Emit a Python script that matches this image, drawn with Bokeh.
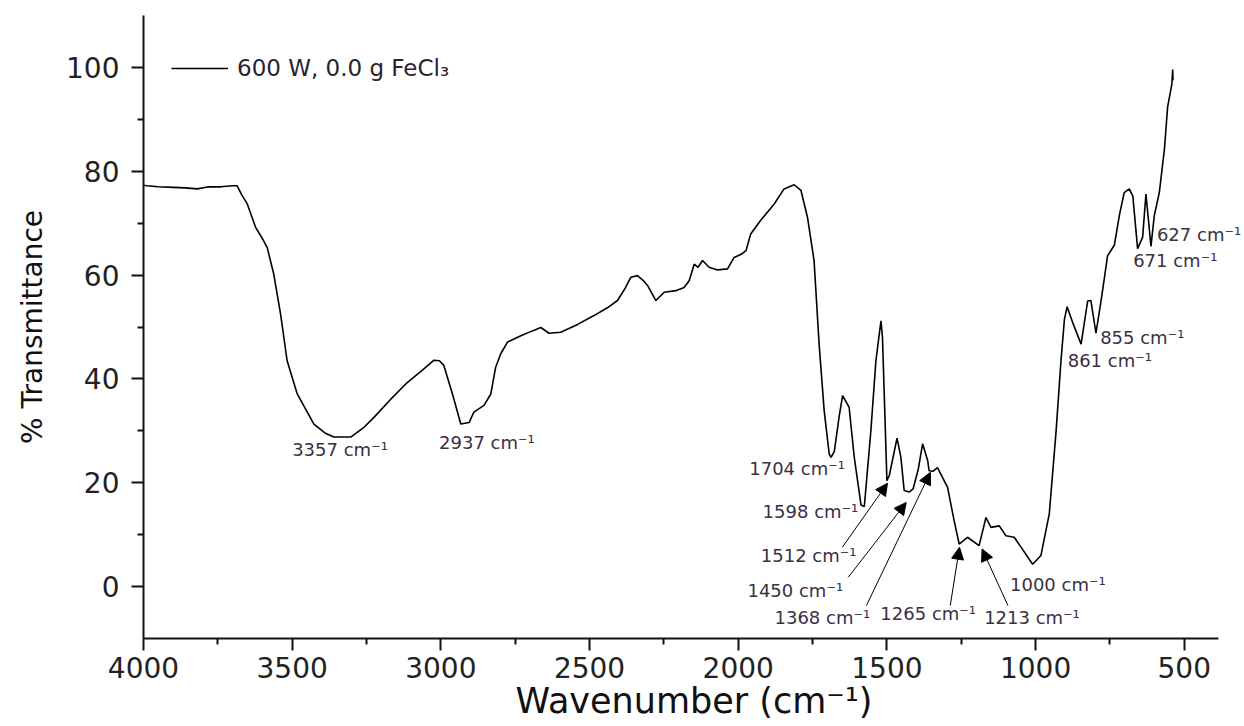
from bokeh.plotting import figure
from bokeh.models import (Range1d, FixedTicker, ColumnDataSource, Arrow, NormalHead, Legend,
                          LegendItem, LabelSet)
from bokeh.core.properties import value
from bokeh.embed import file_html
from bokeh.resources import INLINE

# ---- spectrum (wavenumber, % transmittance) ----
wavenumber = [4000, 3988, 3950, 3900, 3860, 3819, 3780, 3740, 3700, 3685, 3670, 3651, 3623, 3600,
              3584, 3562, 3539, 3517, 3483, 3427, 3390, 3360, 3303, 3260, 3225, 3170, 3113, 3060,
              3023, 3005, 2990, 2961, 2933, 2905, 2889, 2855, 2832, 2816, 2799, 2776, 2731, 2690,
              2664, 2636, 2597, 2540, 2485, 2440, 2406, 2380, 2361, 2339, 2320, 2305, 2277, 2249,
              2210, 2182, 2165, 2148, 2135, 2120, 2098, 2070, 2036, 2014, 1990, 1974, 1958, 1925,
              1879, 1846, 1812, 1789, 1767, 1745, 1728, 1711, 1694, 1688, 1677, 1660, 1649, 1627,
              1610, 1587, 1576, 1554, 1537, 1520, 1515, 1509, 1500, 1492, 1466, 1453, 1442, 1425,
              1412, 1395, 1380, 1363, 1358, 1345, 1330, 1296, 1274, 1257, 1229, 1190, 1167, 1150,
              1122, 1100, 1072, 1049, 1010, 982, 954, 931, 915, 903, 894, 875, 847, 825, 814,
              797, 780, 769, 758, 735, 718, 702, 685, 673, 657, 640, 629, 621, 612, 601, 584, 567,
              556, 542, 539, 538]
transmittance = [77.3, 77.2, 77.0, 76.9, 76.8, 76.6, 77.0, 77.0, 77.2, 77.2, 75.5, 73.7, 69.2, 67.0,
                 65.3, 60.2, 52.5, 43.5, 37.1, 31.3, 29.6, 28.8, 28.8, 30.6, 32.6, 36.0, 39.3, 41.8,
                 43.6, 43.5, 42.6, 37.1, 31.3, 31.6, 33.6, 34.9, 37.1, 42.2, 44.8, 47.1, 48.3, 49.3,
                 49.9, 48.8, 49.0, 50.5, 52.2, 53.7, 55.1, 57.5, 59.6, 59.9, 59.0, 58.0, 55.1, 56.7,
                 57.0, 57.6, 58.9, 62.1, 61.5, 62.8, 61.5, 61.0, 61.2, 63.4, 64.0, 64.7, 67.9, 70.5,
                 73.7, 76.6, 77.4, 76.3, 71.1, 62.8, 46.7, 33.9, 25.5, 24.9, 26.0, 33.0, 36.8, 34.5,
                 25.0, 15.7, 15.4, 30.0, 43.5, 51.2, 48.0, 37.1, 20.4, 21.4, 28.6, 24.9, 18.5, 18.2,
                 18.8, 22.5, 27.5, 24.3, 22.3, 22.2, 22.9, 19.1, 12.7, 8.2, 9.5, 7.9, 13.3, 11.4,
                 11.7, 9.8, 9.5, 7.6, 4.3, 6.0, 14.0, 30.0, 43.2, 51.5, 53.9, 50.8, 46.7, 55.0, 55.1,
                 48.8, 55.0, 59.3, 63.7, 65.8, 71.6, 75.9, 76.6, 75.2, 65.1, 67.3, 75.6, 70.9, 65.5, 71.4, 75.9, 84.1,
                 92.4, 96.7, 99.6, 97.5]

# ---- peak annotations (text anchor in data units) ----
peak_labels = ["3357 cm\u207b\u00b9", "2937 cm\u207b\u00b9", "1704 cm\u207b\u00b9", "1598 cm\u207b\u00b9",
               "1512 cm\u207b\u00b9", "1450 cm\u207b\u00b9", "1368 cm\u207b\u00b9", "1265 cm\u207b\u00b9",
               "1213 cm\u207b\u00b9", "1000 cm\u207b\u00b9", "627 cm\u207b\u00b9", "671 cm\u207b\u00b9",
               "855 cm\u207b\u00b9", "861 cm\u207b\u00b9"]
label_wn = [3500, 3006, 1963, 1918, 1924, 1969, 1878, 1522, 1173, 1086, 592, 672, 783, 892]
label_t = [25.2, 26.5, 21.4, 13.3, 4.7, -2.06, -7.18, -6.41, -7.18, -0.77, 66.6, 61.5, 46.7, 42.2]

# ---- arrows (tail -> head) ----
arrow_wn0 = [1650, 1630, 1569, 1287, 1093]
arrow_t0 = [7.57, 1.79, -3.66, -3.66, -3.66]
arrow_wn1 = [1498, 1435, 1354, 1256, 1180]
arrow_t1 = [19.9, 16.2, 22.0, 7.57, 7.26]

x_ticks = [4000, 3500, 3000, 2500, 2000, 1500, 1000, 500]
x_minor = [3750, 3250, 2750, 2250, 1750, 1250, 750]
x_axis_end = 385
y_ticks = [0, 20, 40, 60, 80, 100]
y_minor = [10, 30, 50, 70, 90]

FONT = "DejaVu Sans"

# the frame runs to the right edge so the "627 cm-1" label is not clipped;
# the x axis line itself stops at x_axis_end (axis bounds)
p = figure(width=1244, height=726, output_backend="svg", toolbar_location=None,
           x_range=Range1d(4000, 297.5), y_range=Range1d(-10, 110),
           min_border_left=143, min_border_right=0, min_border_top=15, min_border_bottom=88)
p.outline_line_color = None
p.grid.visible = False
p.background_fill_color = "white"
p.border_fill_color = "white"

line_r = p.line(wavenumber, transmittance, line_color="black", line_width=1.6)

# axes
for ax in (p.xaxis[0], p.yaxis[0]):
    ax.axis_line_width = 2
    ax.axis_line_color = "#111111"
    ax.major_tick_line_width = 2
    ax.minor_tick_line_width = 2
    ax.major_tick_line_color = "#111111"
    ax.minor_tick_line_color = "#111111"
    ax.major_tick_in = 0
    ax.major_tick_out = 12
    ax.minor_tick_in = 0
    ax.minor_tick_out = 6
    ax.major_label_text_font = FONT
    ax.major_label_text_font_size = "28px"
    ax.major_label_text_color = "#222222"
    ax.axis_label_text_font = FONT
    ax.axis_label_text_font_style = "normal"
    ax.axis_label_text_color = "#111111"

p.xaxis[0].ticker = FixedTicker(ticks=x_ticks, minor_ticks=x_minor)
p.xaxis[0].bounds = (x_axis_end, 4000)
p.yaxis[0].ticker = FixedTicker(ticks=y_ticks, minor_ticks=y_minor)
p.xaxis[0].major_label_standoff = 6
p.yaxis[0].major_label_standoff = 12
p.xaxis[0].axis_label = "Wavenumber (cm\u207b\u00b9)"
p.yaxis[0].axis_label = "% Transmittance"
p.xaxis[0].axis_label_text_font_size = "35px"
p.yaxis[0].axis_label_text_font_size = "28px"
p.xaxis[0].axis_label_standoff = 0
p.yaxis[0].axis_label_standoff = 14

# peak annotations
lab_src = ColumnDataSource(dict(x=label_wn, y=label_t, text=peak_labels))
p.add_layout(LabelSet(x="x", y="y", text="text", source=lab_src, text_font=value(FONT),
                      text_font_size="18px", text_color="#3a3044", text_align="left",
                      text_baseline="alphabetic"))

arr_src = ColumnDataSource(dict(x0=arrow_wn0, y0=arrow_t0, x1=arrow_wn1, y1=arrow_t1))
p.add_layout(Arrow(source=arr_src, x_start="x0", y_start="y0", x_end="x1", y_end="y1",
                   line_color="black", line_width=1,
                   end=NormalHead(size=12, fill_color="black", line_color="black", line_width=1)))

legend = Legend(items=[LegendItem(label="600 W, 0.0 g FeCl\u2083", renderers=[line_r])],
                location=(28, 557), glyph_width=57, glyph_height=22, label_height=22,
                label_standoff=9, padding=0, margin=0, spacing=0,
                border_line_color=None, background_fill_alpha=0,
                label_text_font=FONT, label_text_font_size="23px", label_text_color="#2a2232")
p.add_layout(legend)

open("out.html", "w").write(file_html(p, INLINE))
